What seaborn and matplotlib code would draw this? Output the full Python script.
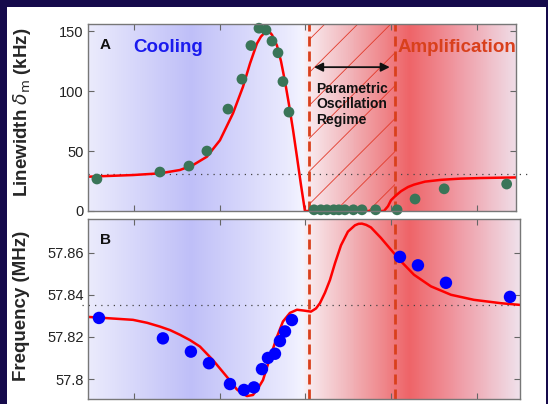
import numpy as np
import seaborn as sns
import matplotlib.pyplot as plt
from matplotlib.colors import LinearSegmentedColormap
from matplotlib.patches import Rectangle

# ---- panel A : mechanical linewidth (kHz) ----
a_pts_x = [-2.436, -1.700, -1.361, -1.151, -0.905, -0.742, -0.637, -0.543, -0.461,
           -0.391, -0.321, -0.263, -0.193, 0.10, 0.18, 0.25, 0.33, 0.39, 0.46, 0.56,
           0.66, 0.82, 1.07, 1.28, 1.62, 2.35]
a_pts_y = [26.7, 32.5, 37.5, 50, 85, 110, 138, 152.5, 151, 141.7, 132, 108, 82.5,
           1, 1, 1, 1, 1, 1, 1, 1, 1, 1, 10, 18.5, 22.5]
a_fit_x = [-2.54, -2.015, -1.70, -1.466, -1.314, -1.151, -0.999, -0.847, -0.730, -0.648,
           -0.567, -0.52, -0.47, -0.449, -0.42, -0.391, -0.333, -0.286, -0.239, -0.193,
           -0.146, -0.099, -0.053, -0.006, 0.169, 0.403, 0.636, 0.917, 0.964, 0.999,
           1.057, 1.116, 1.197, 1.268, 1.396, 1.583, 1.805, 2.039, 2.272, 2.459]
a_fit_y = [28.6, 30, 31.4, 34.2, 38.3, 45.3, 59, 81.4, 103.6, 123, 139.7, 145.5, 149.3,
           150, 149.4, 147, 138, 125, 108, 89, 68, 45, 22, 0, 0, 0, 0, 0, 4, 9, 13, 16.5,
           20, 22, 24.5, 26, 27, 27.5, 27.8, 28]
a_ref = 30.8
a_ticks = [0, 50, 100, 150]

# ---- panel B : mechanical frequency (MHz) ----
b_pts_x = [-2.412, -1.665, -1.338, -1.127, -0.882, -0.718, -0.602, -0.508, -0.438,
           -0.356, -0.298, -0.239, -0.158, 1.104, 1.314, 1.641, 2.389]
b_pts_y = [57.829, 57.8193, 57.813, 57.8075, 57.7976, 57.7948, 57.796, 57.8047, 57.810,
           57.812, 57.818, 57.8226, 57.828, 57.858, 57.854, 57.8457, 57.839]
b_fit_x = [-2.54, -2.015, -1.85, -1.70, -1.58, -1.466, -1.35, -1.232, -1.081, -0.917,
           -0.800, -0.740, -0.683, -0.613, -0.555, -0.496, -0.415, -0.333, -0.263,
           -0.181, -0.099, -0.018, 0.064, 0.123, 0.169, 0.228, 0.286, 0.345, 0.415, 0.496,
           0.578, 0.620, 0.660, 0.710, 0.765, 0.882, 0.999, 1.116, 1.268, 1.466, 1.700,
           1.968, 2.284, 2.506]
b_fit_y = [57.8295, 57.8281, 57.8267, 57.8249, 57.8232, 57.821, 57.8185, 57.8154,
           57.809, 57.801, 57.795, 57.7932, 57.7919, 57.7924, 57.7955, 57.7995, 57.810,
           57.820, 57.8273, 57.8314, 57.8329, 57.8325, 57.832, 57.8335, 57.836, 57.841,
           57.847, 57.855, 57.8635, 57.870, 57.873, 57.8737, 57.8738, 57.8732, 57.872,
           57.867, 57.8614, 57.8559, 57.8495, 57.844, 57.840, 57.8376, 57.836, 57.8352]
b_ref = 57.835
b_ticks = [57.8, 57.82, 57.84, 57.86]
b_ticklabels = ['57.8', '57.82', '57.84', '57.86']

x_ticks = [-2, -1, 0, 1, 2]
osc_lo, osc_hi = 0.04, 1.05   # parametric oscillation regime

sns.set_theme(style="ticks")
plt.rcParams['font.family'] = ['Liberation Sans', 'DejaVu Sans']
plt.rcParams['xtick.direction'] = 'in'
plt.rcParams['ytick.direction'] = 'in'

W, H = 548, 404
fig = plt.figure(figsize=(W / 100, H / 100), dpi=100, facecolor='#150a4b')
fig.add_artist(Rectangle((7 / W, 0), 539 / W, 397 / H, transform=fig.transFigure,
                         facecolor='white', edgecolor='none', zorder=-5))

axA = fig.add_axes([88 / W, (H - 211) / H, 428 / W, 187 / H])
axB = fig.add_axes([88 / W, 5 / H, 432 / W, 180 / H])

bg = LinearSegmentedColormap.from_list('bg', [
    (0.0, '#ebebfc'), (0.236, '#bfbff8'), (0.47, '#ececfe'), (0.497, '#f4f4ff'),
    (0.507, '#f9ecf0'), (0.60, '#f2b8bd'), (0.745, '#ee6468'), (0.87, '#f0a0aa'),
    (1.0, '#efe0ea')])
xl = (-2.54, 2.506)
grad = np.linspace(0, 1, 500)[None, :]

green = '#3a7558'
red = '#ff0000'
dash_c = '#d9401c'

for ax, ylim in [(axA, (0, 156)), (axB, (57.7905, 57.876))]:
    ax.imshow(grad, cmap=bg, aspect='auto', extent=[xl[0], xl[1], ylim[0], ylim[1]],
              zorder=0, interpolation='bilinear')
    ax.set_ylim(*ylim)
    for x in (osc_lo, osc_hi):
        ax.axvline(x, color=dash_c, lw=2, ls=(0, (3.6, 1.8)), zorder=3)
    ax.set_xticks(x_ticks)
    ax.set_xticklabels([])
    ax.tick_params(axis='both', which='both', top=True, right=True, length=4,
                   width=0.8, color='#666666', labelsize=10.5, labelcolor='#222222', pad=3)
    for s in ax.spines.values():
        s.set_color('#777777')
        s.set_linewidth(1)
        s.set_zorder(6)

axA.set_xlim(xl[0], 2.459)
axB.set_xlim(*xl)

# --- panel A ---
# hatch of the oscillation regime (45 deg lines, ~33 px apart)
clip = Rectangle((osc_lo, 0), osc_hi - osc_lo, 156, transform=axA.transData,
                 facecolor='none', edgecolor='none')
axA.add_patch(clip)
slope = 85.6 / 1.2
for k in range(8):
    x0 = osc_lo - 2.0 + k * 0.385
    ln, = axA.plot([x0, x0 + 156 / slope], [0, 156], color='#e23a2a', lw=0.6, zorder=1)
    ln.set_clip_path(clip)

axA.axhline(a_ref, xmin=0, xmax=1.025, color='#444444', lw=0.9, ls=(0, (1, 4)),
            zorder=2, clip_on=False)
sns.lineplot(x=a_fit_x, y=a_fit_y, ax=axA, color=red, lw=1.8, sort=False,
             estimator=None, zorder=4)
sns.scatterplot(x=a_pts_x, y=a_pts_y, ax=axA, color=green, s=60, edgecolor='none',
                zorder=5, clip_on=False)
axA.set_yticks(a_ticks)
axA.set_ylabel(r'Linewidth $\delta_\mathrm{m}$ (kHz)', fontsize=13.5, fontweight='bold')
axA.yaxis.set_label_coords(-0.128, 0.53)

axA.annotate('', xy=(0.10, 120), xytext=(0.985, 120),
             arrowprops=dict(arrowstyle='<|-|>', color='#111111', lw=1.3,
                             mutation_scale=13, shrinkA=0, shrinkB=0), zorder=5)
axA.text(0.125, 108, 'Parametric\nOscillation\nRegime', fontsize=10, fontweight='bold',
         va='top', ha='left', linespacing=1.15, color='#111111', zorder=5)
axA.text(0.028, 0.888, 'A', transform=axA.transAxes, fontsize=11, fontweight='bold',
         va='center', ha='left', color='#111111', zorder=5)
axA.text(0.105, 0.877, 'Cooling', transform=axA.transAxes, fontsize=13.5,
         fontweight='bold', va='center', ha='left', color='#1a1aee', zorder=5)
axA.text(0.724, 0.877, 'Amplification', transform=axA.transAxes, fontsize=13.5,
         fontweight='bold', va='center', ha='left', color='#d9401c', zorder=5)

# --- panel B ---
axB.axhline(b_ref, xmin=-0.013, xmax=1.0, color='#444444', lw=0.9, ls=(0, (1, 4)),
            zorder=2, clip_on=False)
sns.lineplot(x=b_fit_x, y=b_fit_y, ax=axB, color=red, lw=1.8, sort=False,
             estimator=None, zorder=4)
sns.scatterplot(x=b_pts_x, y=b_pts_y, ax=axB, color='#0000ff', s=80, edgecolor='none',
                zorder=5)
axB.set_yticks(b_ticks)
axB.set_yticklabels(b_ticklabels)
axB.set_ylabel('Frequency (MHz)', fontsize=13.5, fontweight='bold')
axB.yaxis.set_label_coords(-0.134, 0.517)
axB.text(0.028, 0.883, 'B', transform=axB.transAxes, fontsize=11, fontweight='bold',
         va='center', ha='left', color='#111111', zorder=5)

fig.savefig('out.png', dpi=100, facecolor=fig.get_facecolor())
